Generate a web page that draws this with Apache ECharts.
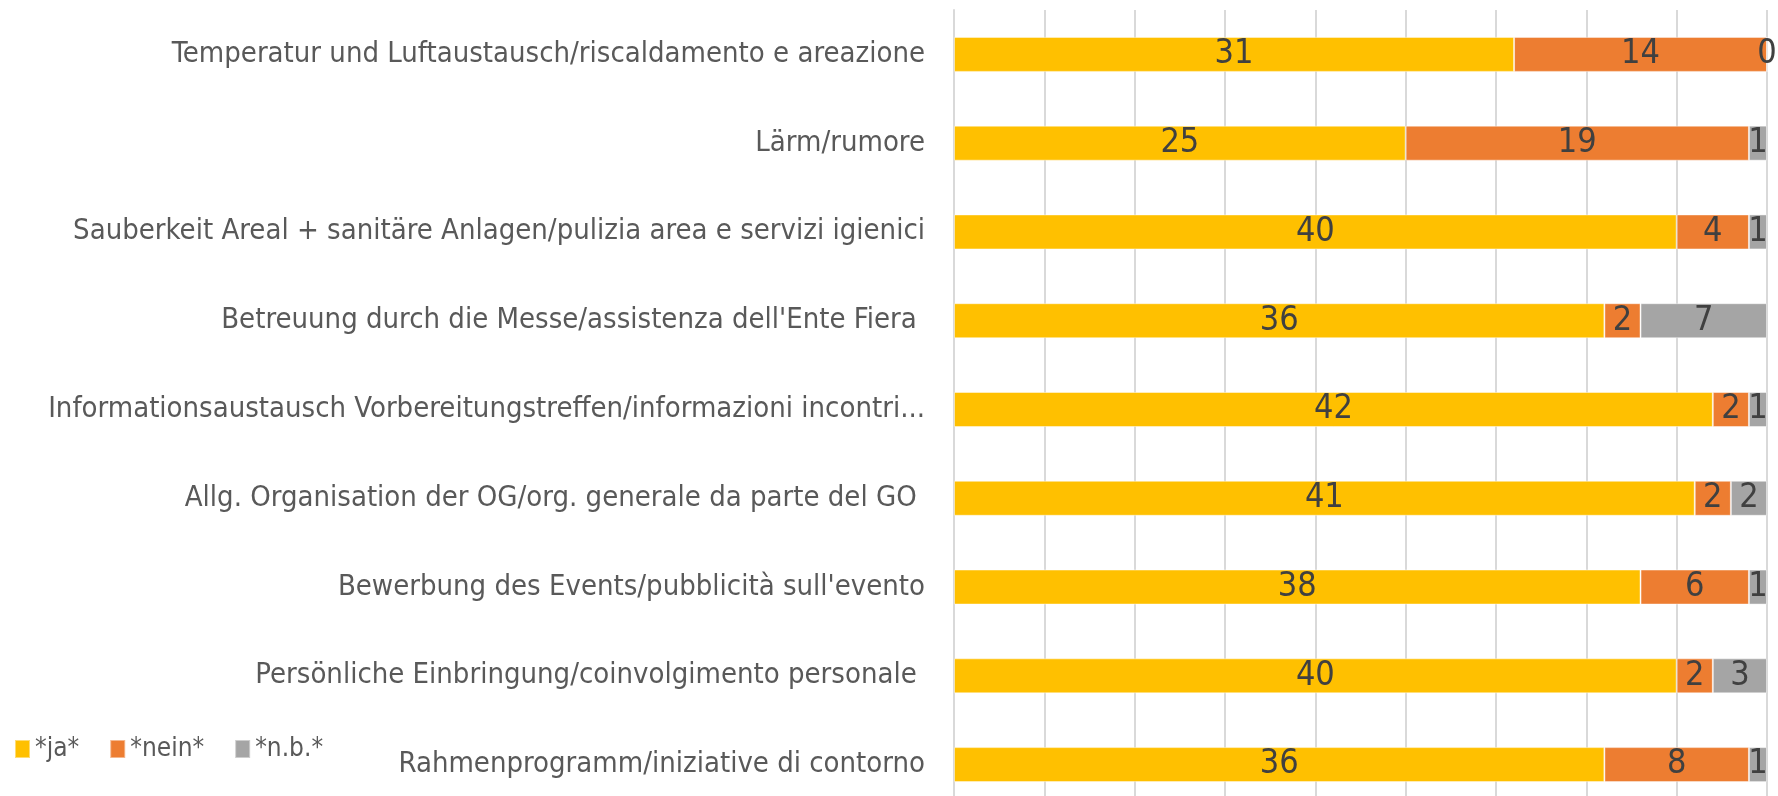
<!DOCTYPE html>
<html>
<head>
<meta charset="utf-8">
<script src="https://cdn.jsdelivr.net/npm/echarts@6/dist/echarts.min.js"></script>
<style>
  html, body { margin: 0; padding: 0; background: #fff; }
  #chart { width: 1778px; height: 796px; }
</style>
</head>
<body>
<div id="chart"></div>
<script>
// Kategorien (von oben nach unten)
const categories = [
  'Temperatur und Luftaustausch/riscaldamento e areazione',
  'Lärm/rumore',
  'Sauberkeit Areal + sanitäre Anlagen/pulizia area e servizi igienici',
  "Betreuung durch die Messe/assistenza dell'Ente Fiera ",
  'Informationsaustausch Vorbereitungstreffen/informazioni incontri...',
  'Allg. Organisation der OG/org. generale da parte del GO ',
  "Bewerbung des Events/pubblicità sull'evento",
  'Persönliche Einbringung/coinvolgimento personale ',
  'Rahmenprogramm/iniziative di contorno'
]

const seriesNames = ['*ja*', '*nein*', '*n.b.*']
const jaValues = [31, 25, 40, 36, 42, 41, 38, 40, 36]
const neinValues = [14, 19, 4, 2, 2, 2, 6, 2, 8]
const nbValues = [0, 1, 1, 7, 1, 2, 1, 3, 1]
const colors = ['#FFC000', '#ED7D31', '#A5A5A5']

const fontFamily = '"Liberation Sans Narrow", "DejaVu Sans Condensed", sans-serif'

const chart = echarts.init(document.getElementById('chart'))

const makeSeries = (name, data, color) => ({
  name,
  type: 'bar',
  stack: 'total',
  data,
  barWidth: 35,
  itemStyle: {
    color,
    borderColor: 'rgba(255,255,255,0.45)',
    borderWidth: 1
  },
  label: {
    show: true,
    position: 'inside',
    color: '#404040',
    fontSize: 34,
    fontFamily
  }
})

const option = {
  animation: false,
  backgroundColor: '#ffffff',
  color: colors,
  legend: {
    data: seriesNames,
    left: 9,
    top: 731,
    itemWidth: 15,
    itemHeight: 18,
    itemGap: 30,
    icon: 'rect',
    textStyle: {
      color: '#595959',
      fontSize: 26,
      fontFamily
    }
  },
  grid: {
    left: 954,
    right: 11,
    top: 10,
    bottom: -13,
    containLabel: false,
    outerBoundsMode: 'none'
  },
  xAxis: {
    type: 'value',
    min: 0,
    max: 45,
    interval: 5,
    axisLabel: { show: false },
    axisLine: { show: false },
    axisTick: { show: false },
    splitLine: {
      show: true,
      lineStyle: { color: '#d9d9d9', width: 2 }
    }
  },
  yAxis: {
    type: 'category',
    inverse: true,
    data: categories,
    axisTick: { show: false },
    axisLine: {
      show: true,
      lineStyle: { color: '#d9d9d9', width: 2 }
    },
    axisLabel: {
      margin: 29,
      color: '#595959',
      fontSize: 29,
      fontFamily
    }
  },
  series: [
    makeSeries(seriesNames[0], jaValues, colors[0]),
    makeSeries(seriesNames[1], neinValues, colors[1]),
    makeSeries(seriesNames[2], nbValues, colors[2])
  ]
}

chart.setOption(option)
</script>
</body>
</html>
